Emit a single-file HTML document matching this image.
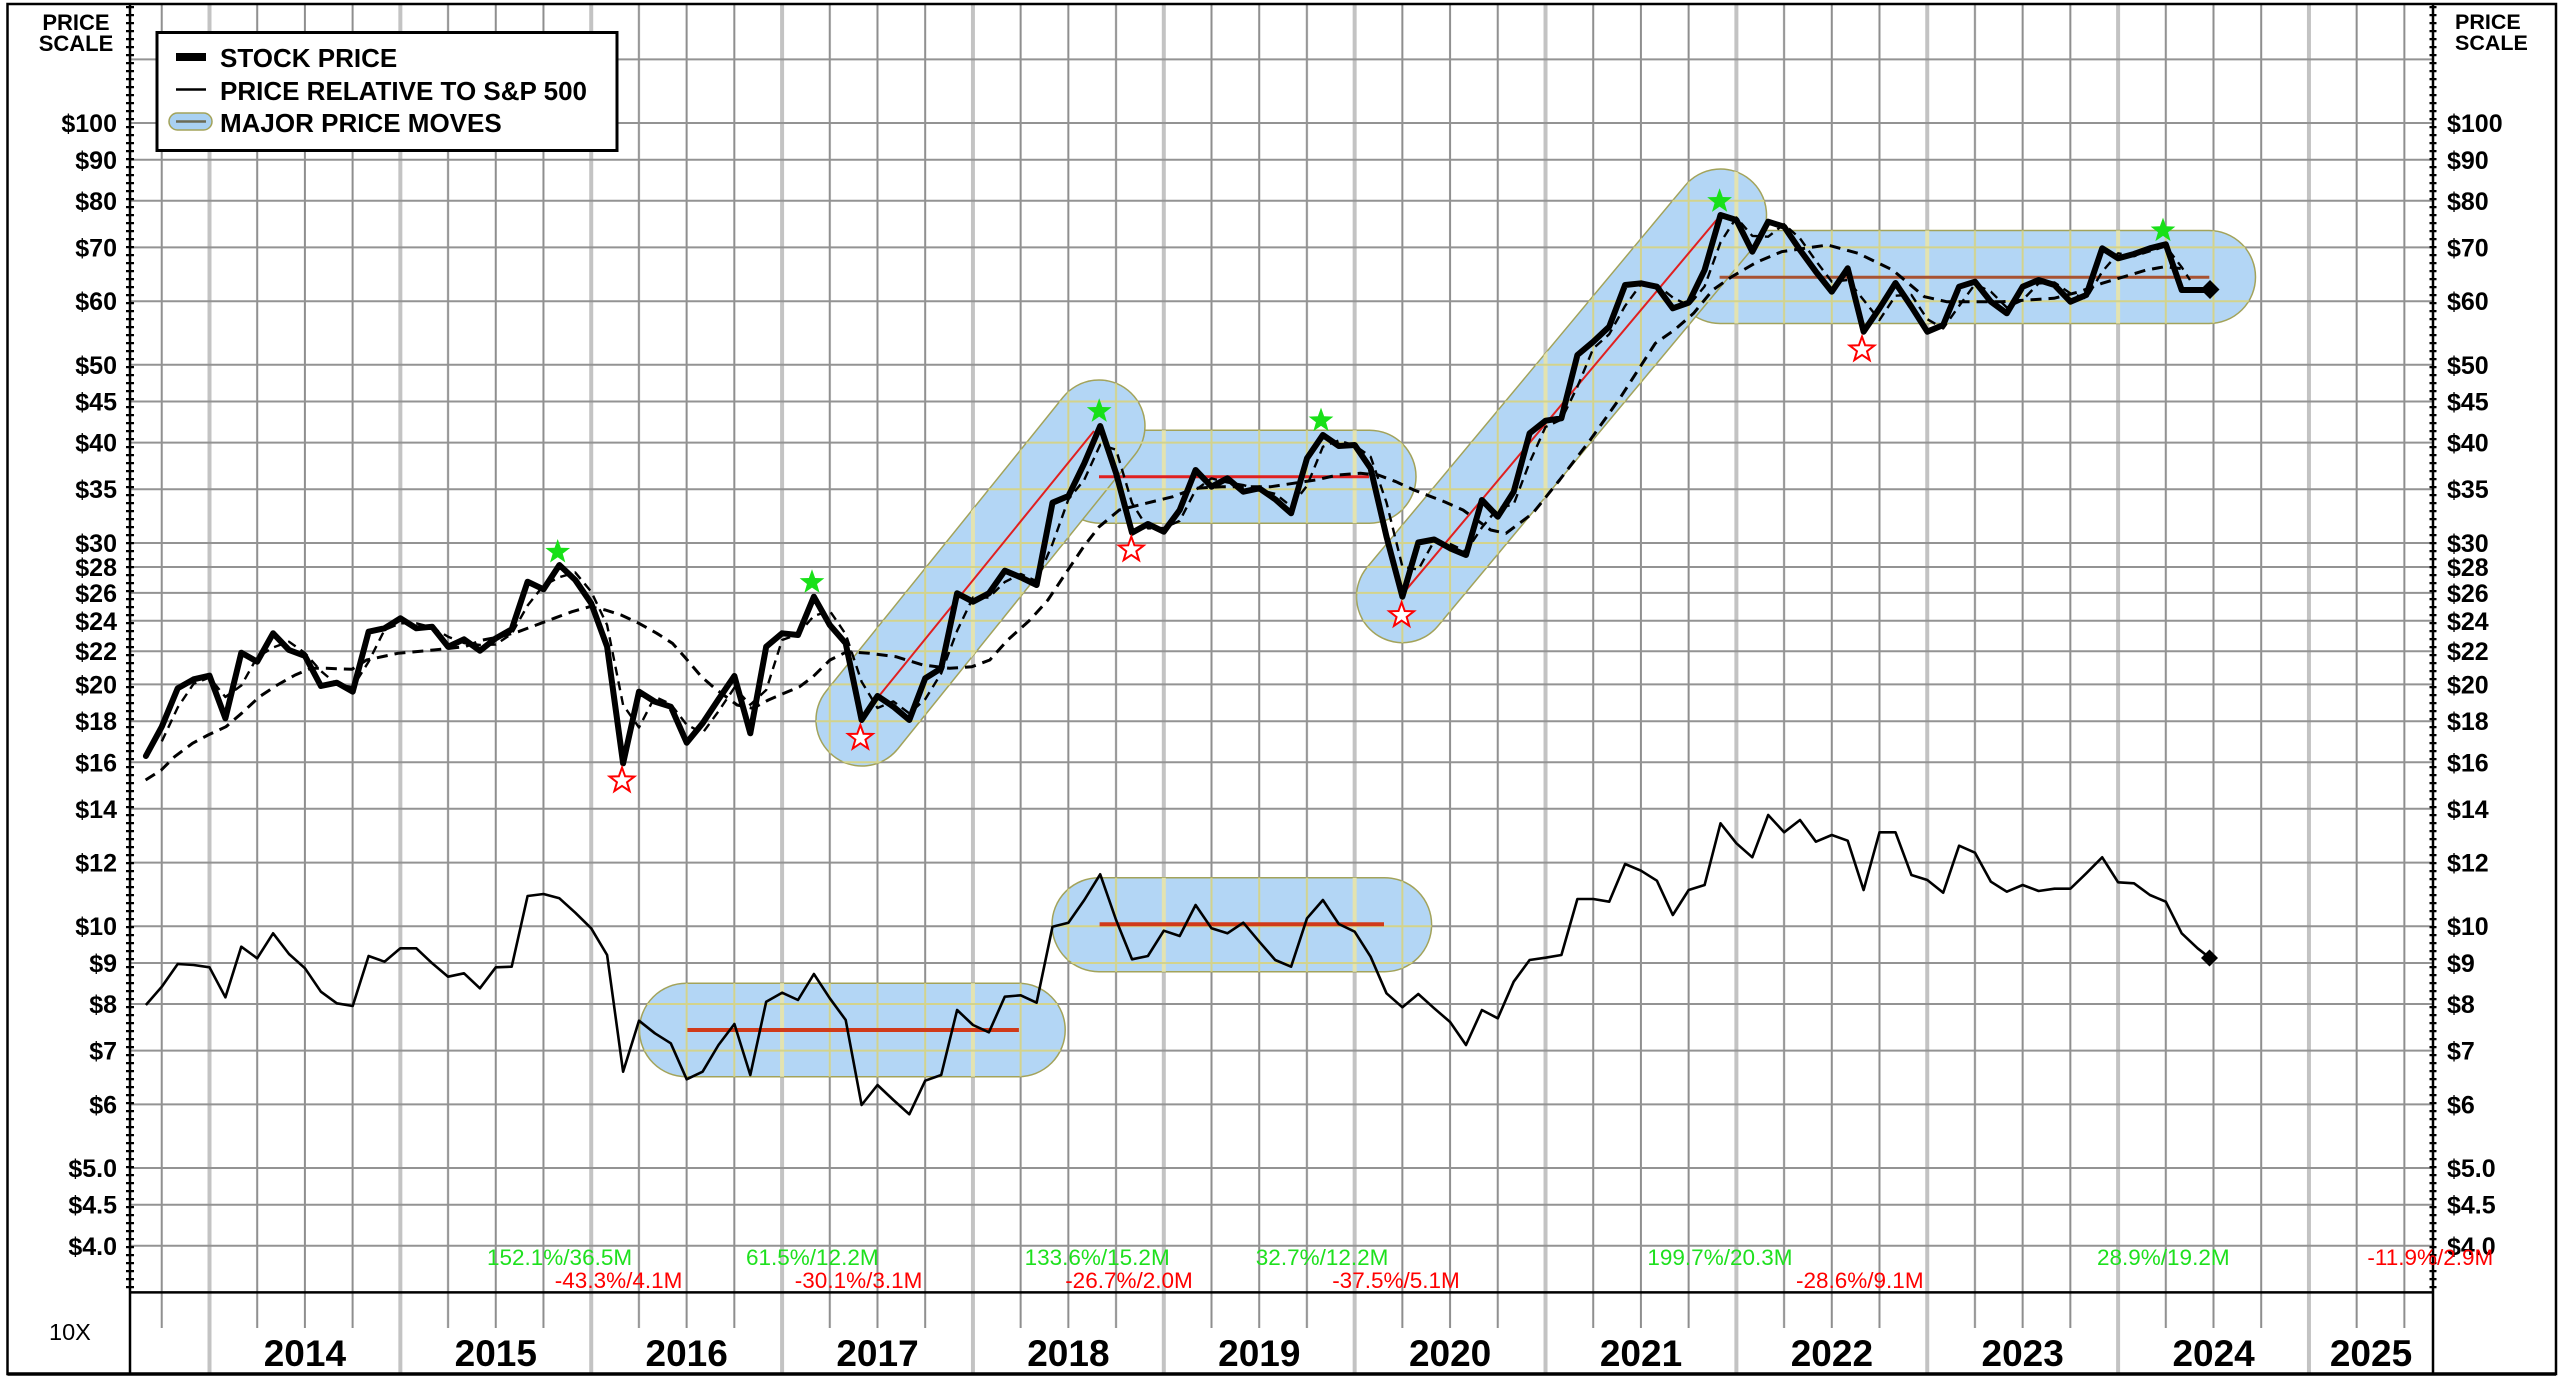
<!DOCTYPE html>
<html>
<head>
<meta charset="utf-8">
<style>
html,body{margin:0;padding:0;background:#fff;}
svg{display:block;}
text{font-family:"Liberation Sans",Arial,sans-serif;}
</style>
</head>
<body>
<svg width="2560" height="1382" viewBox="0 0 2560 1382" xmlns="http://www.w3.org/2000/svg">
<defs>
  <pattern id="vg" x="207.5" y="0" width="190.86" height="1400" patternUnits="userSpaceOnUse">
    <rect x="0" y="0" width="4" height="1400" fill="#c3c3c3"/>
    <rect x="48.7" y="0" width="2" height="1400" fill="#8e8e8e"/>
    <rect x="96.4" y="0" width="2" height="1400" fill="#8e8e8e"/>
    <rect x="144.1" y="0" width="2" height="1400" fill="#8e8e8e"/>
  </pattern>
  <pattern id="vy" x="207.5" y="0" width="190.86" height="1400" patternUnits="userSpaceOnUse">
    <rect x="0" y="0" width="4" height="1400" fill="#c3c3c3"/>
  </pattern>
  <pattern id="vgy" x="207.5" y="0" width="190.86" height="1400" patternUnits="userSpaceOnUse">
    <rect x="0" y="0" width="4" height="1400" fill="#e3e3b0"/>
    <rect x="48.7" y="0" width="2" height="1400" fill="#d3d38c"/>
    <rect x="96.4" y="0" width="2" height="1400" fill="#d3d38c"/>
    <rect x="144.1" y="0" width="2" height="1400" fill="#d3d38c"/>
  </pattern>
  <path id="hl" d="M130 59.4H2433M130 123H2433M130 159.8H2433M130 200.8H2433M130 247.4H2433M130 301.2H2433M130 364.8H2433M130 401.5H2433M130 442.6H2433M130 489.2H2433M130 543H2433M130 567H2433M130 592.9H2433M130 620.8H2433M130 651.2H2433M130 684.4H2433M130 721.2H2433M130 762.3H2433M130 808.8H2433M130 862.6H2433M130 926.2H2433M130 963H2433M130 1004H2433M130 1050.6H2433M130 1104.4H2433M130 1168H2433M130 1204.7H2433M130 1245.8H2433"/>
  <clipPath id="cc">
    <rect x="1053.5" y="430.2" width="362.5" height="93" rx="46.5" ry="46.5"/>
    <rect x="1673.5" y="230.5" width="582" height="93" rx="46.5" ry="46.5"/>
    <rect x="639.5" y="983.3" width="425.7" height="93.4" rx="46.7" ry="46.7"/>
    <rect x="1052" y="877.7" width="379.6" height="94" rx="47" ry="47"/>
    <rect x="-46" y="-46" width="469.6" height="92" rx="46" ry="46" transform="translate(862 720) rotate(-51.13)"/>
    <rect x="-46" y="-46" width="588.8" height="92" rx="46" ry="46" transform="translate(1402.5 596.7) rotate(-50.2)"/>
  </clipPath>
  <path id="st" d="M0,-13 L3.12,-4.29 L12.36,-4.02 L5.04,1.64 L7.64,10.52 L0,5.3 L-7.64,10.52 L-5.04,1.64 L-12.36,-4.02 L-3.12,-4.29 Z"/>
</defs>

<rect x="0" y="0" width="2560" height="1382" fill="#fff"/>

<!-- vertical grid -->
<rect x="130" y="4" width="2303" height="1288" fill="url(#vg)"/>
<rect x="130" y="1292" width="2303" height="36" fill="url(#vg)"/>
<rect x="130" y="1328" width="2303" height="46" fill="url(#vy)"/>
<!-- horizontal grid -->
<use href="#hl" fill="none" stroke="#939393" stroke-width="2"/>

<!-- capsules -->
<g fill="#b3d6f5" stroke="#a3a35a" stroke-width="1.5">
  <rect x="1053.5" y="430.2" width="362.5" height="93" rx="46.5" ry="46.5"/>
  <rect x="1673.5" y="230.5" width="582" height="93" rx="46.5" ry="46.5"/>
  <rect x="639.5" y="983.3" width="425.7" height="93.4" rx="46.7" ry="46.7"/>
  <rect x="1052" y="877.7" width="379.6" height="94" rx="47" ry="47"/>
  <rect x="-46" y="-46" width="469.6" height="92" rx="46" ry="46" transform="translate(862 720) rotate(-51.13)"/>
  <rect x="-46" y="-46" width="588.8" height="92" rx="46" ry="46" transform="translate(1402.5 596.7) rotate(-50.2)"/>
</g>
<!-- yellowish grid inside capsules -->
<g clip-path="url(#cc)">
  <rect x="130" y="4" width="2303" height="1288" fill="url(#vgy)"/>
  <use href="#hl" fill="none" stroke="#d3d38c" stroke-width="2"/>
</g>

<!-- capsule center lines -->
<line x1="879" y1="696" x2="1094" y2="431" stroke="#e02020" stroke-width="2"/>
<line x1="1099" y1="476.7" x2="1369" y2="476.7" stroke="#e02020" stroke-width="3"/>
<line x1="1404.6" y1="591.7" x2="1716.5" y2="220" stroke="#e02020" stroke-width="2"/>
<line x1="1719.6" y1="277.3" x2="2209.3" y2="277.3" stroke="#a85232" stroke-width="3"/>
<line x1="687.4" y1="1030" x2="1018.9" y2="1030" stroke="#d03a1a" stroke-width="4"/>
<line x1="1099.6" y1="924.3" x2="1384" y2="924.3" stroke="#d03a1a" stroke-width="4"/>

<!-- long moving average -->
<polyline fill="none" stroke="#000" stroke-width="3" stroke-dasharray="11 7" stroke-linejoin="round" points="145.6,780 161.3,770 174.6,756.7 192.5,743.3 208.1,735 226,726.7 241.6,713.3 259.5,696.7 277.3,685 295.2,675 310.8,668.3 326.4,668.3 351.9,669.3 366.6,660 397.9,653.3 433.6,650 464.8,646.7 482.7,640 500.5,636.7 518.4,631.7 536.3,625 554.1,618.3 572,611.7 589.8,606.7 605.4,610 621.1,615 638.9,623.3 656.8,633.3 672.4,643.3 685.8,658.3 701.4,676.7 714.8,688.3 730.4,700 737.1,705 752.8,708.3 768.4,700 784,693.3 799.6,686.7 813,676.7 830,660 847,651.7 869.3,653.3 896,656.7 922.9,665 949.6,668.3 972,666.7 989.8,660 1007.7,640 1030,620 1047.9,600 1065.7,573.3 1083.6,546.7 1099.2,526.7 1119.3,510 1146,503.3 1172.9,496.7 1195.2,488.3 1222,486.7 1248.8,486.7 1271,486.7 1293.4,483.3 1315.7,480 1338,475 1360.4,473.3 1378.2,475 1396,481.7 1413.9,490 1445,502 1463,510 1490.7,530 1506,533.3 1532.8,513.3 1559.6,480 1590.2,440 1620.9,396.7 1655.3,343.3 1674.4,330 1693.6,313.3 1712.7,290 1731.8,276.7 1757,262 1781.6,251.7 1827.5,245 1858.1,253.3 1892.6,270 1924.4,296.7 1946.6,301.7 2002,301.7 2053.9,298.3 2079.8,291.7 2102,283.3 2146.4,270 2164.9,266.7 2187,269.3"/>

<!-- short moving average -->
<polyline fill="none" stroke="#000" stroke-width="2.4" stroke-dasharray="9 6" stroke-linejoin="round" points="161.8,741.4 177.7,707.5 193.6,683.8 209.5,677.5 225.4,697 241.3,685.5 257.2,657.2 273.1,647.5 289,641.7 305,653 320.9,671 336.8,684.4 352.7,687.2 368.6,661.7 384.5,630 400.4,623.3 416.3,623.3 432.2,627.5 448.1,636.7 464,643 479.9,645 495.8,644.5 511.7,633.8 527.6,605.5 543.5,585.5 559.4,577.2 575.3,572.5 591.2,591.7 607.1,625 623.1,705 639,727.5 654.9,696.7 670.8,704.2 686.7,724.7 702.6,733 718.5,711.3 734.4,687.7 750.3,704.7 766.2,690 782.1,640 798,634.2 813.9,615.9 829.8,610.9 845.7,634.2 861.6,681.7 877.5,708 893.4,701.4 909.3,713.4 925.2,699.2 941.2,673.3 957.1,630.8 973,597.5 988.9,597.5 1004.8,582 1020.7,574 1036.6,581.2 1052.5,543.9 1068.4,499.4 1084.3,479.7 1100.2,444.7 1116.1,449.7 1132,503 1147.9,528.4 1163.8,527.9 1179.7,520.9 1195.6,490 1211.5,478.4 1227.4,482.5 1243.3,485 1259.3,490 1275.2,493.8 1291.1,506.3 1307,485.8 1322.9,446.7 1338.8,440.5 1354.7,445.5 1370.6,456.7 1386.5,502.5 1402.4,566.7 1418.3,569.6 1434.2,541 1450.1,543.9 1466,551.7 1481.9,527.5 1497.8,508.4 1513.7,504.2 1529.6,462.5 1545.5,427 1561.4,419.5 1577.4,386.7 1593.3,348.4 1609.2,334.2 1625.1,305.9 1641,284.2 1656.9,285 1672.8,297.5 1688.7,305.5 1704.6,286.4 1720.5,242.5 1736.4,217.5 1752.3,235.9 1768.2,236.7 1784.1,224.2 1800,238.4 1815.9,260.9 1831.8,281.7 1847.7,280 1863.6,300 1879.5,320 1895.5,295.7 1911.4,294.9 1927.3,319.2 1943.2,328.4 1959.1,305.9 1975,284.2 1990.9,291.7 2006.8,307.5 2022.7,300 2038.6,283.4 2054.5,282.5 2070.4,293.4 2086.3,298.4 2102.2,271.7 2118.1,253.3 2134,256.2 2149.9,251.2 2165.8,246.3 2181.7,267.2 2190,280"/>

<!-- stock price -->
<polyline fill="none" stroke="#000" stroke-width="6" stroke-linejoin="round" stroke-linecap="round" points="145.9,756 161.8,726.7 177.7,688.3 193.6,679.3 209.5,675.7 225.4,718.3 241.3,652.7 257.2,661.7 273.1,633.3 289,650 305,656 320.9,686 336.8,682.7 352.7,691.7 368.6,631.7 384.5,628.3 400.4,618.3 416.3,628.3 432.2,626.7 448.1,646.7 464,639.3 479.9,650.7 495.8,638.3 511.7,629.3 527.6,581.7 543.5,589.3 559.4,565 575.3,580 591.2,603.3 607.1,646.7 623.1,763.3 639,691.7 654.9,701.7 670.8,706.7 686.7,742.7 702.6,723.3 718.5,699.3 734.4,676 750.3,733.3 766.2,646.7 782.1,633.3 798,635 813.9,596.7 829.8,625 845.7,643.3 861.6,720 877.5,696 893.4,706.7 909.3,720 925.2,678.3 941.2,668.3 957.1,593.3 973,601.7 988.9,593.3 1004.8,570.7 1020.7,577.3 1036.6,585 1052.5,502.7 1068.4,496 1084.3,463.3 1100.2,426 1116.1,473.3 1132,532.7 1147.9,524 1163.8,531.7 1179.7,510 1195.6,470 1211.5,486.7 1227.4,478.3 1243.3,491.7 1259.3,488.3 1275.2,499.3 1291.1,513.3 1307,458.3 1322.9,435 1338.8,446 1354.7,445 1370.6,468.3 1386.5,536.7 1402.4,596.7 1418.3,542.5 1434.2,539.5 1450.1,548.3 1466,555 1481.9,500 1497.8,516.7 1513.7,491.7 1529.6,433.3 1545.5,420.7 1561.4,418.3 1577.4,355 1593.3,341.7 1609.2,326.7 1625.1,285 1641,283.3 1656.9,286.7 1672.8,308.3 1688.7,302.7 1704.6,270 1720.5,215 1736.4,220 1752.3,251.7 1768.2,221.7 1784.1,226.7 1800,250 1815.9,271.7 1831.8,291.7 1847.7,268.3 1863.6,331.7 1879.5,308.3 1895.5,283 1911.4,306.7 1927.3,331.7 1943.2,325 1959.1,286.7 1975,281.7 1990.9,301.7 2006.8,313.3 2022.7,286.7 2038.6,280 2054.5,285 2070.4,301.7 2086.3,295 2102.2,248.3 2118.1,258.3 2134,254 2149.9,248.3 2165.8,244.3 2181.7,290 2197.6,290 2210,290"/>

<!-- relative strength -->
<polyline fill="none" stroke="#000" stroke-width="2.6" stroke-linejoin="round" points="145.9,1005 161.8,986.7 177.7,964 193.6,965 209.5,967.3 225.4,997.3 241.3,946.7 257.2,958.3 273.1,933.3 289,954 305,968.3 320.9,991.7 336.8,1003.3 352.7,1006 368.6,956 384.5,961.7 400.4,948.3 416.3,948.3 432.2,963.3 448.1,976.7 464,973.3 479.9,988.3 495.8,967.3 511.7,966.7 527.6,896 543.5,894 559.4,898.3 575.3,912.7 591.2,928.3 607.1,955 623.1,1071.7 639,1020.7 654.9,1033.3 670.8,1043.3 686.7,1079.3 702.6,1071.7 718.5,1045 734.4,1024 750.3,1075 766.2,1001.7 782.1,992.7 798,1000 813.9,974 829.8,998.3 845.7,1020 861.6,1105 877.5,1085 893.4,1100 909.3,1114.3 925.2,1080.7 941.2,1075 957.1,1010 973,1025 988.9,1032.3 1004.8,996.7 1020.7,995.3 1036.6,1002.7 1052.5,926.7 1068.4,922.7 1084.3,900 1100.2,874.3 1116.1,920 1132,959.3 1147.9,956 1163.8,930.7 1179.7,936 1195.6,905 1211.5,928.3 1227.4,933.3 1243.3,922.7 1259.3,941.7 1275.2,960 1291.1,966.7 1307,918.3 1322.9,900 1338.8,924 1354.7,931.7 1370.6,956.7 1386.5,993.3 1402.4,1007.3 1418.3,994 1434.2,1008.3 1450.1,1022 1466,1045 1481.9,1010 1497.8,1018.3 1513.7,981.7 1529.6,960 1545.5,957.7 1561.4,955 1577.4,899 1593.3,899 1609.2,901.7 1625.1,864 1641,870.7 1656.9,880.7 1672.8,915 1688.7,890 1704.6,885 1720.5,823.3 1736.4,843.3 1752.3,857.3 1768.2,815 1784.1,832.3 1800,820 1815.9,841.7 1831.8,835 1847.7,840.7 1863.6,890 1879.5,832.3 1895.5,832.3 1911.4,875 1927.3,880 1943.2,892.7 1959.1,845.7 1975,852.7 1990.9,881.7 2006.8,891.7 2022.7,885 2038.6,891 2054.5,888.7 2070.4,888.7 2086.3,873.3 2102.2,857.3 2118.1,882.3 2134,883.3 2149.9,895 2165.8,901.7 2181.7,933.3 2197.6,948.3 2210,958"/>

<!-- end diamonds -->
<polygon points="2210,280 2219.5,289.5 2210,299 2200.5,289.5" fill="#000"/>
<polygon points="2209.5,949.5 2218,958 2209.5,966.5 2201,958" fill="#000"/>

<!-- stars -->
<g fill="#18e018">
  <use href="#st" x="557.7" y="552"/>
  <use href="#st" x="812" y="582.3"/>
  <use href="#st" x="1099.2" y="411.3"/>
  <use href="#st" x="1321" y="420.6"/>
  <use href="#st" x="1719.6" y="201.3"/>
  <use href="#st" x="2163" y="230.6"/>
</g>
<g fill="#fff" stroke="#ff0000" stroke-width="2">
  <use href="#st" x="622" y="780.6"/>
  <use href="#st" x="860.4" y="738"/>
  <use href="#st" x="1131.3" y="549.6"/>
  <use href="#st" x="1401.6" y="615.3"/>
  <use href="#st" x="1862" y="349.6"/>
</g>

<!-- axes, ticks and frame -->
<line x1="130" y1="6" x2="130" y2="1290" stroke="#000" stroke-width="8" stroke-dasharray="2.2 5.8"/>
<line x1="2433" y1="6" x2="2433" y2="1290" stroke="#000" stroke-width="7" stroke-dasharray="2.2 5.8"/>
<line x1="130" y1="4" x2="130" y2="1374" stroke="#000" stroke-width="2.5"/>
<line x1="2433" y1="4" x2="2433" y2="1374" stroke="#000" stroke-width="2.5"/>
<line x1="130" y1="1292.4" x2="2433" y2="1292.4" stroke="#000" stroke-width="2.5"/>
<path d="M7.5 4H2556V1374H7.5Z" fill="none" stroke="#000" stroke-width="2.5"/>
<line x1="7.5" y1="1374" x2="2556" y2="1374" stroke="#000" stroke-width="3.5"/>

<!-- left labels -->
<g font-size="22" font-weight="bold" fill="#000" text-anchor="middle">
  <text x="76" y="30">PRICE</text>
  <text x="76" y="51">SCALE</text>
</g>
<g font-size="25" font-weight="bold" fill="#000" text-anchor="end">
  <text x="117" y="132">$100</text>
  <text x="117" y="168.8">$90</text>
  <text x="117" y="209.8">$80</text>
  <text x="117" y="256.4">$70</text>
  <text x="117" y="310.2">$60</text>
  <text x="117" y="373.8">$50</text>
  <text x="117" y="410.5">$45</text>
  <text x="117" y="451.6">$40</text>
  <text x="117" y="498.2">$35</text>
  <text x="117" y="552">$30</text>
  <text x="117" y="576">$28</text>
  <text x="117" y="601.9">$26</text>
  <text x="117" y="629.8">$24</text>
  <text x="117" y="660.2">$22</text>
  <text x="117" y="693.4">$20</text>
  <text x="117" y="730.2">$18</text>
  <text x="117" y="771.3">$16</text>
  <text x="117" y="817.8">$14</text>
  <text x="117" y="871.6">$12</text>
  <text x="117" y="935.2">$10</text>
  <text x="117" y="972">$9</text>
  <text x="117" y="1013">$8</text>
  <text x="117" y="1059.6">$7</text>
  <text x="117" y="1113.4">$6</text>
  <text x="117" y="1177">$5.0</text>
  <text x="117" y="1213.7">$4.5</text>
  <text x="117" y="1254.8">$4.0</text>
</g>

<!-- right labels -->
<g font-size="21.5" font-weight="bold" fill="#000">
  <text x="2455" y="29">PRICE</text>
  <text x="2455" y="50">SCALE</text>
</g>
<g font-size="25" font-weight="bold" fill="#000">
  <text x="2447" y="132">$100</text>
  <text x="2447" y="168.8">$90</text>
  <text x="2447" y="209.8">$80</text>
  <text x="2447" y="256.4">$70</text>
  <text x="2447" y="310.2">$60</text>
  <text x="2447" y="373.8">$50</text>
  <text x="2447" y="410.5">$45</text>
  <text x="2447" y="451.6">$40</text>
  <text x="2447" y="498.2">$35</text>
  <text x="2447" y="552">$30</text>
  <text x="2447" y="576">$28</text>
  <text x="2447" y="601.9">$26</text>
  <text x="2447" y="629.8">$24</text>
  <text x="2447" y="660.2">$22</text>
  <text x="2447" y="693.4">$20</text>
  <text x="2447" y="730.2">$18</text>
  <text x="2447" y="771.3">$16</text>
  <text x="2447" y="817.8">$14</text>
  <text x="2447" y="871.6">$12</text>
  <text x="2447" y="935.2">$10</text>
  <text x="2447" y="972">$9</text>
  <text x="2447" y="1013">$8</text>
  <text x="2447" y="1059.6">$7</text>
  <text x="2447" y="1113.4">$6</text>
  <text x="2447" y="1177">$5.0</text>
  <text x="2447" y="1213.7">$4.5</text>
  <text x="2447" y="1254.8">$4.0</text>
</g>

<!-- year labels -->
<g font-size="37" font-weight="bold" fill="#000" text-anchor="middle">
  <text x="304.9" y="1366">2014</text>
  <text x="495.8" y="1366">2015</text>
  <text x="686.7" y="1366">2016</text>
  <text x="877.5" y="1366">2017</text>
  <text x="1068.4" y="1366">2018</text>
  <text x="1259.3" y="1366">2019</text>
  <text x="1450.1" y="1366">2020</text>
  <text x="1641" y="1366">2021</text>
  <text x="1831.9" y="1366">2022</text>
  <text x="2022.7" y="1366">2023</text>
  <text x="2213.6" y="1366">2024</text>
  <text x="2371" y="1366">2025</text>
</g>
<text x="49" y="1340" font-size="23.5" fill="#000">10X</text>

<!-- legend -->
<rect x="157" y="32.5" width="460" height="118" fill="#fff" stroke="#000" stroke-width="3"/>
<rect x="176" y="53" width="30" height="8" fill="#000"/>
<line x1="176" y1="89.5" x2="206" y2="89.5" stroke="#000" stroke-width="2.5"/>
<rect x="169" y="113" width="43" height="17" rx="8.5" ry="8.5" fill="#a9d1f2" stroke="#a3a35a" stroke-width="1.5"/>
<line x1="176" y1="121.5" x2="206" y2="121.5" stroke="#6b6b55" stroke-width="2.5"/>
<g font-size="26" font-weight="bold" fill="#000">
  <text x="220" y="67">STOCK PRICE</text>
  <text x="220" y="100">PRICE RELATIVE TO S&amp;P 500</text>
  <text x="220" y="132">MAJOR PRICE MOVES</text>
</g>

<!-- move annotations -->
<g font-size="22.5" fill="#1ee01e">
  <text x="487" y="1265">152.1%/36.5M</text>
  <text x="746" y="1265">61.5%/12.2M</text>
  <text x="1024.6" y="1265">133.6%/15.2M</text>
  <text x="1255.8" y="1265">32.7%/12.2M</text>
  <text x="1647.4" y="1265">199.7%/20.3M</text>
  <text x="2097" y="1265">28.9%/19.2M</text>
</g>
<g font-size="22.5" fill="#ff0000">
  <text x="554.8" y="1288">-43.3%/4.1M</text>
  <text x="794.8" y="1288">-30.1%/3.1M</text>
  <text x="1065.2" y="1288">-26.7%/2.0M</text>
  <text x="1332.2" y="1288">-37.5%/5.1M</text>
  <text x="1796" y="1288">-28.6%/9.1M</text>
  <text x="2367.4" y="1265">-11.9%/2.9M</text>
</g>
</svg>
</body>
</html>
